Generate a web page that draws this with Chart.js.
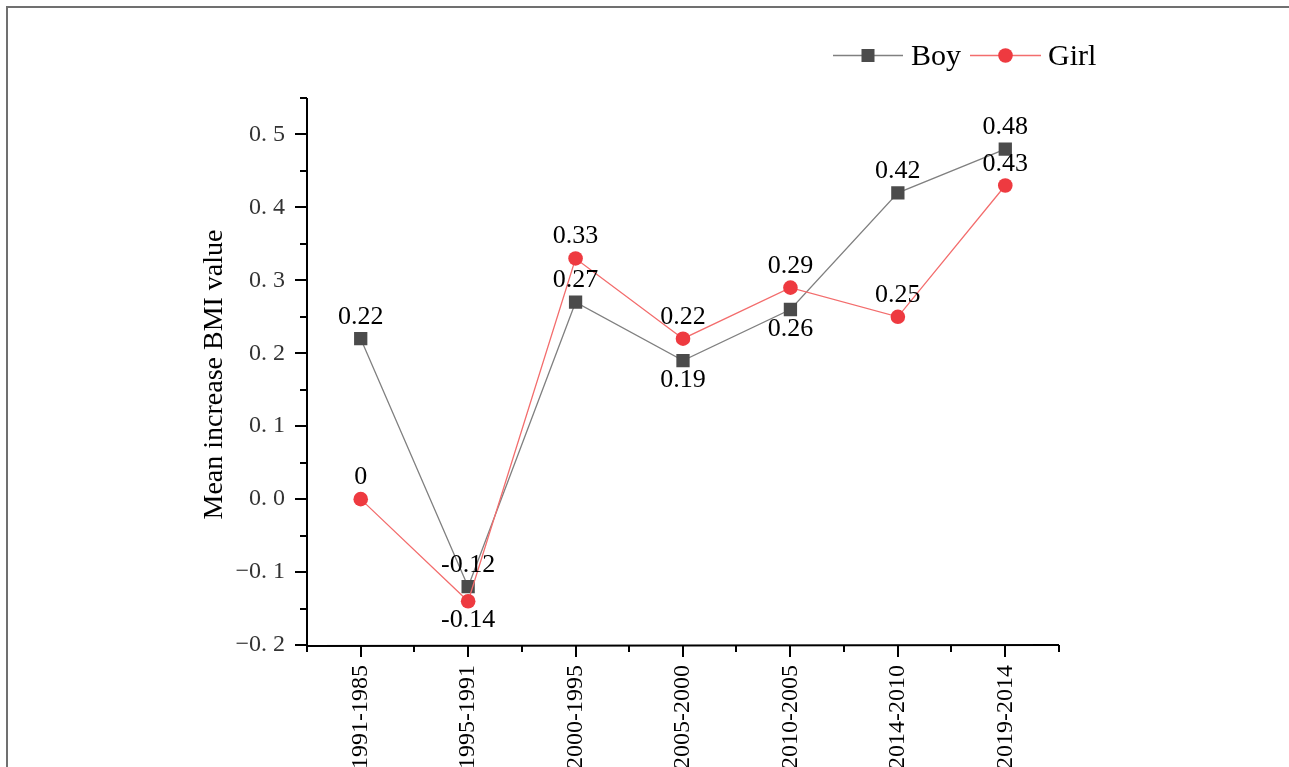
<!DOCTYPE html>
<html>
<head>
<meta charset="utf-8">
<script src="https://cdn.jsdelivr.net/npm/chart.js@4.4.1/dist/chart.umd.min.js"></script>
<style>
html,body{margin:0;padding:0;background:#fff;}
#wrap{position:relative;width:1289px;height:767px;}
</style>
</head>
<body>
<div id="wrap"><canvas id="c" width="1289" height="767"></canvas></div>
<script>
const categories = ['1991-1985','1995-1991','2000-1995','2005-2000','2010-2005','2014-2010','2019-2014'];
const boyValues  = [0.22, -0.12, 0.27, 0.19, 0.26, 0.42, 0.48];
const girlValues = [0.00, -0.14, 0.33, 0.22, 0.29, 0.25, 0.43];
const yTickValues = [-0.2, -0.1, 0.0, 0.1, 0.2, 0.3, 0.4, 0.5];
const yTickLabels = ['\u22120. 2','\u22120. 1','0. 0','0. 1','0. 2','0. 3','0. 4','0. 5'];
const boyLabelSide  = ['up','up','up','down','down','up','up'];
const girlLabelSide = ['up','down','up','up','up','up','up'];

const SERIF = '"Liberation Serif","Times New Roman",serif';
const BOY_LINE = '#808080', BOY_MARK = '#4b4b4b';
const GIRL_LINE = '#f36d6d', GIRL_MARK = '#ee3a40';

function fmt(v){ return v === 0 ? '0' : String(v); }

const deco = {
  id: 'deco',
  beforeDraw(chart){
    const ctx = chart.ctx;
    ctx.save();
    ctx.strokeStyle = '#707070';
    ctx.lineWidth = 2;
    ctx.beginPath();
    ctx.moveTo(7, 767); ctx.lineTo(7, 7); ctx.lineTo(1289, 7);
    ctx.stroke();
    ctx.restore();
  },
  afterDraw(chart){
    const ctx = chart.ctx;
    const ys = chart.scales.y, xs = chart.scales.x;
    const area = chart.chartArea;
    ctx.save();
    ctx.strokeStyle = '#000';
    ctx.lineWidth = 2;
    ctx.beginPath();
    ctx.moveTo(area.left, area.top); ctx.lineTo(area.left, area.bottom + 1);
    ctx.lineTo(area.right, area.bottom);
    ctx.stroke();
    ys.ticks.forEach(t => {
      const v = Math.round(t.value * 100);
      const major = v % 10 === 0;
      const py = Math.round(ys.getPixelForValue(t.value));
      ctx.beginPath();
      ctx.moveTo(area.left, py);
      ctx.lineTo(area.left - (major ? 12 : 7), py);
      ctx.stroke();
    });
    const step = xs.getPixelForValue(1) - xs.getPixelForValue(0);
    categories.forEach((c, i) => {
      const px = Math.round(xs.getPixelForValue(i));
      ctx.beginPath();
      ctx.moveTo(px, area.bottom); ctx.lineTo(px, area.bottom + 12);
      ctx.stroke();
      const bx = Math.round(px - step / 2);
      ctx.beginPath();
      ctx.moveTo(bx, area.bottom); ctx.lineTo(bx, area.bottom + 7);
      ctx.stroke();
    });
    const ex = Math.round(xs.getPixelForValue(categories.length - 1) + step / 2);
    ctx.beginPath();
    ctx.moveTo(ex, area.bottom); ctx.lineTo(ex, area.bottom + 7);
    ctx.stroke();

    ctx.fillStyle = '#000';
    ctx.font = '28px ' + SERIF;
    ctx.textAlign = 'center';
    ctx.textBaseline = 'alphabetic';
    ctx.translate(222, (area.top + area.bottom) / 2 + 3);
    ctx.rotate(-Math.PI / 2);
    ctx.fillText('Mean increase BMI value', 0, 0);
    ctx.restore();

    ctx.save();
    ctx.lineWidth = 1.3;
    ctx.strokeStyle = BOY_LINE;
    ctx.beginPath(); ctx.moveTo(833, 55.5); ctx.lineTo(903, 55.5); ctx.stroke();
    ctx.fillStyle = BOY_MARK;
    ctx.fillRect(861.5, 49, 13, 13);
    ctx.strokeStyle = GIRL_LINE;
    ctx.beginPath(); ctx.moveTo(970, 55.5); ctx.lineTo(1041, 55.5); ctx.stroke();
    ctx.fillStyle = GIRL_MARK;
    ctx.beginPath(); ctx.arc(1005.5, 55.5, 7.3, 0, Math.PI * 2); ctx.fill();
    ctx.fillStyle = '#000';
    ctx.font = '30px ' + SERIF;
    ctx.textAlign = 'left';
    ctx.textBaseline = 'alphabetic';
    ctx.fillText('Boy', 911, 65);
    ctx.fillText('Girl', 1048, 65);
    ctx.restore();

    ctx.save();
    ctx.fillStyle = '#000';
    ctx.font = '26px ' + SERIF;
    ctx.textAlign = 'center';
    ctx.textBaseline = 'alphabetic';
    const sets = [[0, boyValues, boyLabelSide], [1, girlValues, girlLabelSide]];
    sets.forEach(([di, vals, sides]) => {
      const meta = chart.getDatasetMeta(di);
      meta.data.forEach((pt, i) => {
        const dy = sides[i] === 'up' ? -15 : 26;
        ctx.fillText(fmt(vals[i]), pt.x, pt.y + dy);
      });
    });
    ctx.restore();
  }
};

new Chart(document.getElementById('c'), {
  type: 'line',
  data: {
    labels: categories,
    datasets: [
      {
        label: 'Boy', data: boyValues, order: 1,
        borderColor: BOY_LINE, borderWidth: 1.3,
        pointStyle: 'rect', pointRadius: 9.4, pointHoverRadius: 9.4,
        pointBackgroundColor: BOY_MARK, pointBorderColor: BOY_MARK, pointBorderWidth: 0,
        tension: 0, fill: false
      },
      {
        label: 'Girl', data: girlValues, order: 0,
        borderColor: GIRL_LINE, borderWidth: 1.3,
        pointStyle: 'circle', pointRadius: 7.3, pointHoverRadius: 7.3,
        pointBackgroundColor: GIRL_MARK, pointBorderColor: GIRL_MARK, pointBorderWidth: 0,
        tension: 0, fill: false
      }
    ]
  },
  options: {
    responsive: false,
    animation: false,
    events: [],
    layout: { padding: { left: 0, top: 98, right: 230, bottom: 0 } },
    plugins: { legend: { display: false }, tooltip: { enabled: false } },
    scales: {
      x: {
        type: 'category',
        offset: true,
        grid: { display: false, drawTicks: false },
        border: { display: false },
        ticks: {
          minRotation: 90, maxRotation: 90, autoSkip: false,
          padding: 20,
          color: '#000',
          font: { family: SERIF, size: 24 }
        },
        afterFit(s){ s.height = 122; }
      },
      y: {
        min: -0.2, max: 0.55,
        grid: { display: false, drawTicks: false },
        border: { display: false },
        ticks: {
          stepSize: 0.05, autoSkip: false, maxTicksLimit: 100,
          padding: 22,
          color: '#333',
          font: { family: SERIF, size: 24 },
          callback(v){
            const k = yTickValues.findIndex(t => Math.abs(t - v) < 1e-6);
            return k >= 0 ? yTickLabels[k] : '';
          }
        },
        afterFit(s){ s.width = 307; }
      }
    }
  },
  plugins: [deco]
});
</script>
</body>
</html>
